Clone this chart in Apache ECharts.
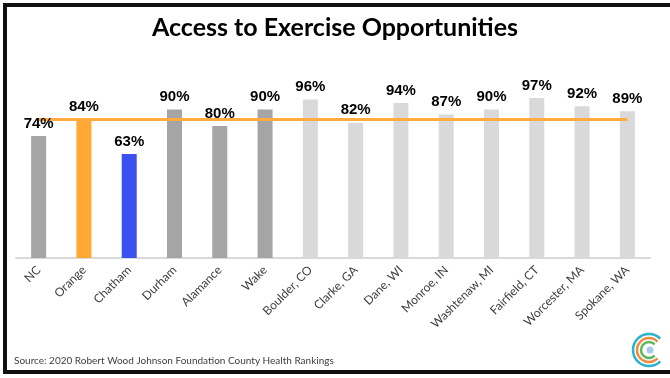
<!DOCTYPE html>
<html>
<head>
<meta charset="utf-8">
<script src="https://cdn.jsdelivr.net/npm/echarts@6/dist/echarts.min.js"></script>
<style>
html, body { margin: 0; padding: 0; background: #fff; }
#chart { width: 670px; height: 378px; }
</style>
</head>
<body>
<div id="chart"></div>
<script>
// counties and their access to exercise opportunities (%)
var counties = ['NC', 'Orange', 'Chatham', 'Durham', 'Alamance', 'Wake',
	'Boulder, CO', 'Clarke, GA', 'Dane, WI', 'Monroe, IN', 'Washtenaw, MI',
	'Fairfield, CT', 'Worcester, MA', 'Spokane, WA'];
var access = [74, 84, 63, 90, 80, 90, 96, 82, 94, 87, 90, 97, 92, 89];
// Orange county value drawn across as a reference line
var orangeLine = [84, 84, 84, 84, 84, 84, 84, 84, 84, 84, 84, 84, 84, 84];

var barColors = ['#a5a5a5', '#ffa833', '#3a50f0', '#a5a5a5', '#a5a5a5', '#a5a5a5',
	'#d9d9d9', '#d9d9d9', '#d9d9d9', '#d9d9d9', '#d9d9d9', '#d9d9d9', '#d9d9d9', '#d9d9d9'];

var chart = echarts.init(document.getElementById('chart'));

var barData = access.map(function (v, i) {
	return { value: v, itemStyle: { color: barColors[i] } };
});

var option = {
	backgroundColor: '#fff',
	animation: false,
	title: {
		text: 'Access to Exercise Opportunities',
		left: 'center',
		top: 10,
		textStyle: {
			fontFamily: 'Lato',
			fontWeight: 'bold',
			fontSize: 25,
			color: '#000'
		}
	},
	grid: { left: 16, right: 20, top: 93, bottom: 120 },
	xAxis: {
		type: 'category',
		data: counties,
		axisLine: { lineStyle: { color: '#d9d9d9', width: 2 } },
		axisTick: { show: false },
		axisLabel: {
			interval: 0,
			rotate: 45,
			margin: 10,
			color: '#404040',
			fontFamily: 'Lato',
			fontSize: 12
		}
	},
	yAxis: {
		type: 'value',
		min: 0,
		max: 100,
		show: false,
		splitLine: { show: false }
	},
	series: [{
		// bars
		type: 'bar',
		data: barData,
		barWidth: 15,
		z: 2
	}, {
		// orange reference line
		type: 'line',
		data: orangeLine,
		symbol: 'none',
		lineStyle: { color: '#ffab40', width: 3 },
		z: 3
	}, {
		// labels kept above the line
		type: 'bar',
		data: access,
		barWidth: 15,
		barGap: '-100%',
		itemStyle: { color: 'rgba(0,0,0,0)' },
		label: {
			show: true,
			position: 'top',
			distance: 5,
			formatter: '{c}%',
			fontFamily: 'Liberation Sans',
			fontWeight: 'bold',
			fontSize: 15,
			color: '#000'
		},
		z: 4
	}],
	graphic: [{
		type: 'rect',
		shape: { x: 5, y: 5, width: 700, height: 367 },
		style: { fill: 'none', stroke: '#111', lineWidth: 4 },
		z: 10
	}, {
		type: 'text',
		left: 14,
		top: 356,
		style: {
			text: 'Source: 2020 Robert Wood Johnson Foundation County Health Rankings',
			fill: '#404040',
			font: '10px Lato'
		}
	}, {
		// logo
		type: 'arc',
		shape: { cx: 649, cy: 350, r: 16, startAngle: Math.PI / 4, endAngle: Math.PI * 7 / 4 },
		style: { fill: 'none', stroke: '#2ab3cc', lineWidth: 2.5 }
	}, {
		type: 'arc',
		shape: { cx: 649, cy: 350, r: 12, startAngle: Math.PI / 4, endAngle: Math.PI * 7 / 4 },
		style: { fill: 'none', stroke: '#f08a40', lineWidth: 2.5 }
	}, {
		type: 'arc',
		shape: { cx: 649, cy: 350, r: 8, startAngle: Math.PI / 4, endAngle: Math.PI * 7 / 4 },
		style: { fill: 'none', stroke: '#5cb85c', lineWidth: 2.5 }
	}, {
		type: 'circle',
		shape: { cx: 650, cy: 350, r: 3.5 },
		style: { fill: '#a8c8f0' }
	}]
};

chart.setOption(option);
</script>
</body>
</html>
